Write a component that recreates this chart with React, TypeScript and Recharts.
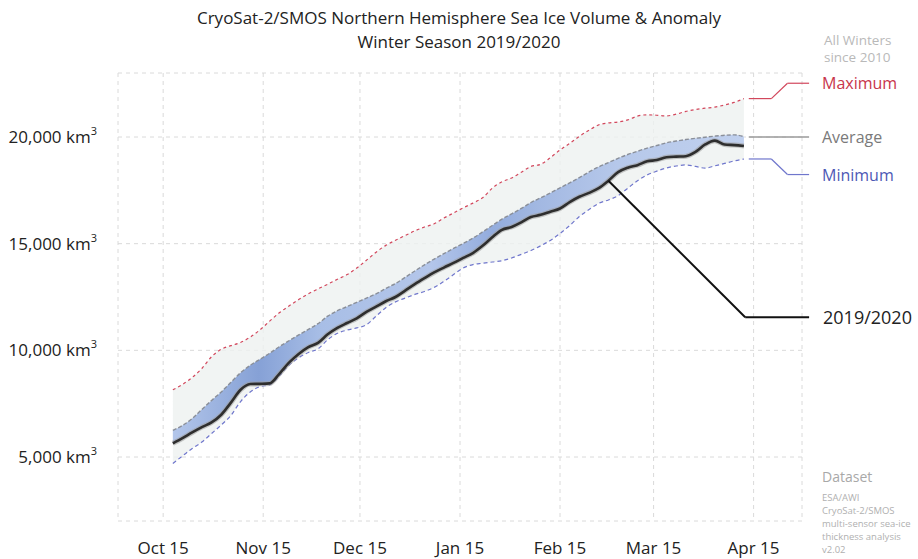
import React from 'react';
import { ComposedChart, Area, Line, XAxis, YAxis, CartesianGrid, ReferenceLine } from 'recharts';

// Days since Oct 15, 2019
const days = [3, 6, 9, 12, 15, 18, 21, 24, 27, 30, 33, 36, 39, 42, 45, 48, 51, 54, 57, 60, 63, 66, 69, 72, 75, 78, 81, 84, 87, 90, 93, 96, 99, 102, 105, 108, 111, 114, 117, 120, 123, 126, 129, 132, 135, 138, 141, 144, 147, 150, 153, 156, 159, 162, 165, 168, 171, 174, 177, 180];

const maxVals = [8150, 8400, 8730, 9150, 9700, 10050, 10220, 10370, 10620, 10960, 11370, 11760, 12080, 12380, 12650, 12880, 13100, 13330, 13550, 13860, 14220, 14600, 14920, 15160, 15380, 15600, 15780, 15930, 16200, 16440, 16680, 16900, 17150, 17600, 17900, 18080, 18350, 18620, 18720, 19030, 19390, 19700, 20030, 20320, 20570, 20660, 20700, 20800, 20980, 21040, 21020, 20990, 21070, 21200, 21290, 21350, 21400, 21500, 21620, 21800];

const avgVals = [6250, 6480, 6800, 7230, 7650, 8050, 8500, 8950, 9300, 9580, 9860, 10170, 10450, 10720, 10980, 11250, 11600, 11860, 12050, 12250, 12450, 12650, 12900, 13130, 13420, 13720, 14010, 14280, 14530, 14780, 15010, 15260, 15550, 15850, 16150, 16400, 16650, 16930, 17150, 17380, 17620, 17850, 18100, 18360, 18600, 18800, 19000, 19180, 19330, 19480, 19600, 19730, 19810, 19880, 19940, 19990, 20040, 20080, 20100, 20020];

const minVals = [4700, 5050, 5400, 5700, 6100, 6500, 6950, 7600, 8050, 8300, 8380, 8800, 9300, 9650, 9900, 10070, 10500, 10800, 10950, 11050, 11200, 11600, 12000, 12270, 12450, 12620, 12760, 12950, 13230, 13550, 13860, 14020, 14080, 14140, 14200, 14330, 14500, 14680, 14900, 15150, 15480, 15850, 16270, 16600, 16890, 17050, 17250, 17600, 17950, 18220, 18400, 18550, 18640, 18690, 18620, 18540, 18650, 18760, 18880, 18970];

const curVals = [5640, 5880, 6150, 6400, 6620, 6980, 7550, 8150, 8420, 8430, 8450, 8900, 9420, 9830, 10150, 10350, 10750, 11050, 11280, 11500, 11800, 12050, 12300, 12500, 12800, 13100, 13380, 13650, 13880, 14100, 14330, 14560, 14900, 15300, 15650, 15780, 16000, 16250, 16350, 16500, 16650, 16950, 17200, 17380, 17600, 17950, 18350, 18560, 18680, 18860, 18920, 19050, 19080, 19100, 19300, 19650, 19830, 19650, 19620, 19580];

const tickDays = [0, 31, 61, 92, 123, 152, 183];
const tickLabels = ['Oct 15', 'Nov 15', 'Dec 15', 'Jan 15', 'Feb 15', 'Mar 15', 'Apr 15'];
const yTicks = [5000, 10000, 15000, 20000];

const data = days.map((d, i) => ({
  day: d,
  max: maxVals[i],
  min: minVals[i],
  avg: avgVals[i],
  cur: curVals[i],
  range: [minVals[i], maxVals[i]],
  band: [curVals[i], avgVals[i]],
}));

const FONT = "'Open Sans', 'Noto Sans', sans-serif";

const last = days.length - 1;
// legend connectors in data coordinates
const maxConn = [
  { x: 181.5, y: maxVals[last] },
  { x: 188.5, y: maxVals[last] },
  { x: 193.5, y: 22520 },
  { x: 200.2, y: 22520 },
];
const avgConn = [
  { x: 181.5, y: 20000 },
  { x: 200.2, y: 20000 },
];
const minConn = [
  { x: 181.5, y: minVals[last] },
  { x: 188.5, y: minVals[last] },
  { x: 193.5, y: 18240 },
  { x: 200.2, y: 18240 },
];
const curIdx = 45;
const curConn = [
  { x: days[curIdx], y: curVals[curIdx] },
  { x: 180.4, y: 11550 },
  { x: 200.2, y: 11550 },
];

const segs = (pts: { x: number; y: number }[]) =>
  pts.slice(0, -1).map((p, i) => [p, pts[i + 1]]);

const fmt = (v: number) => v.toLocaleString('en-US');

const YTick = (props: any) => {
  const { x, y, payload } = props;
  return (
    <text x={x - 21} y={y + 6} textAnchor="end" fontSize={17} fill="#222" fontFamily={FONT}>
      <tspan>{fmt(payload.value)} km</tspan>
      <tspan dy={-8} fontSize={11}>3</tspan>
    </text>
  );
};

const XTick = (props: any) => {
  const { x, y, payload } = props;
  const idx = tickDays.indexOf(payload.value);
  return (
    <text x={x} y={y + 33} textAnchor="middle" fontSize={17} fill="#222" fontFamily={FONT}>
      {tickLabels[idx]}
    </text>
  );
};

export default function App() {
  const renderConn = (pts: { x: number; y: number }[], color: string, w: number, key: string) =>
    segs(pts).map((s, i) => (
      <ReferenceLine
        key={key + i}
        segment={s as any}
        ifOverflow="visible"
        stroke={color}
        strokeWidth={w}
      />
    ));

  return (
    <div style={{ position: 'absolute', left: 0, top: 0, width: 918, height: 559, background: '#fff' }}>
      <ComposedChart
        width={918}
        height={559}
        data={data}
        margin={{ top: 73, right: 116, bottom: 0, left: 0 }}
      >
        <defs>
          <linearGradient id="bandGrad" x1="0" y1="0" x2="1" y2="0">
            <stop offset="0" stopColor="#b3c6ea" />
            <stop offset="0.15" stopColor="#86a1d6" />
            <stop offset="0.26" stopColor="#a8bee6" />
            <stop offset="0.45" stopColor="#b4c6ea" />
            <stop offset="0.56" stopColor="#93acdd" />
            <stop offset="0.64" stopColor="#a2b8e2" />
            <stop offset="0.78" stopColor="#b6c8ea" />
            <stop offset="1" stopColor="#c0d0ee" />
          </linearGradient>
        </defs>
        <CartesianGrid stroke="#dadada" strokeDasharray="4 4" />
        <XAxis
          dataKey="day"
          type="number"
          domain={[-14, 198]}
          ticks={tickDays}
          allowDataOverflow
          height={38}
          tickSize={0}
          tickMargin={0}
          tickLine={false}
          axisLine={false}
          tick={<XTick />}
          interval={0}
        />
        <YAxis
          type="number"
          domain={[2000, 23000]}
          ticks={yTicks}
          allowDataOverflow
          width={118}
          tickSize={0}
          tickMargin={0}
          tickLine={false}
          axisLine={false}
          tick={<YTick />}
          interval={0}
        />
        <Area
          dataKey="range"
          type="monotone"
          stroke="none"
          fill="#eef1f0"
          fillOpacity={0.8}
          isAnimationActive={false}
        />
        <Area
          dataKey="band"
          type="monotone"
          stroke="none"
          fill="url(#bandGrad)"
          fillOpacity={1}
          isAnimationActive={false}
        />
        <Line dataKey="max" type="monotone" stroke="#d2475c" strokeWidth={1.2} strokeDasharray="3 3" dot={false} isAnimationActive={false} />
        <Line dataKey="min" type="monotone" stroke="#6f76cc" strokeWidth={1.2} strokeDasharray="4 3" dot={false} isAnimationActive={false} />
        <Line dataKey="avg" type="monotone" stroke="#8a8f99" strokeWidth={1.4} strokeDasharray="4 2" dot={false} isAnimationActive={false} />
        <Line dataKey="cur" type="monotone" stroke="#a0a0a0" strokeWidth={5} strokeOpacity={0.6} dot={false} isAnimationActive={false} />
        <Line dataKey="cur" type="monotone" stroke="#2e2e2e" strokeWidth={2.6} dot={false} isAnimationActive={false} />
        {renderConn(maxConn, '#d2475c', 1.2, 'mx')}
        {renderConn(avgConn, '#9a9a9a', 1.4, 'av')}
        {renderConn(minConn, '#6f76cc', 1.2, 'mn')}
        {renderConn(curConn, '#111', 2, 'cu')}
      </ComposedChart>
      <svg
        width={918}
        height={559}
        style={{ position: 'absolute', left: 0, top: 0, pointerEvents: 'none' }}
        fontFamily={FONT}
      >
        <text x={459} y={24} textAnchor="middle" fontSize={17} fill="#222">
          CryoSat-2/SMOS Northern Hemisphere Sea Ice Volume &amp; Anomaly
        </text>
        <text x={459} y={48} textAnchor="middle" fontSize={17} fill="#222">
          Winter Season 2019/2020
        </text>
        <text x={824} y={45} fontSize={13.5} fill="#b9b9b9">All Winters</text>
        <text x={824} y={62} fontSize={13.5} fill="#b9b9b9">since 2010</text>
        <text x={822} y={89} fontSize={16} fill="#c8354b">Maximum</text>
        <text x={822} y={143} fontSize={16} fill="#7a7a7a">Average</text>
        <text x={822} y={181} fontSize={16} fill="#4d58b5">Minimum</text>
        <text x={823} y={324} fontSize={18} fill="#222">2019/2020</text>
        <text x={822} y={482} fontSize={14} fill="#a8a8a8">Dataset</text>
        <text x={822} y={501} fontSize={9.5} fill="#b0b0b0">ESA/AWI</text>
        <text x={822} y={514} fontSize={9.5} fill="#b0b0b0">CryoSat-2/SMOS</text>
        <text x={822} y={527} fontSize={9.5} fill="#b0b0b0">multi-sensor sea-ice</text>
        <text x={822} y={540} fontSize={9.5} fill="#b0b0b0">thickness analysis</text>
        <text x={822} y={553} fontSize={9.5} fill="#b0b0b0">v2.02</text>
      </svg>
    </div>
  );
}
